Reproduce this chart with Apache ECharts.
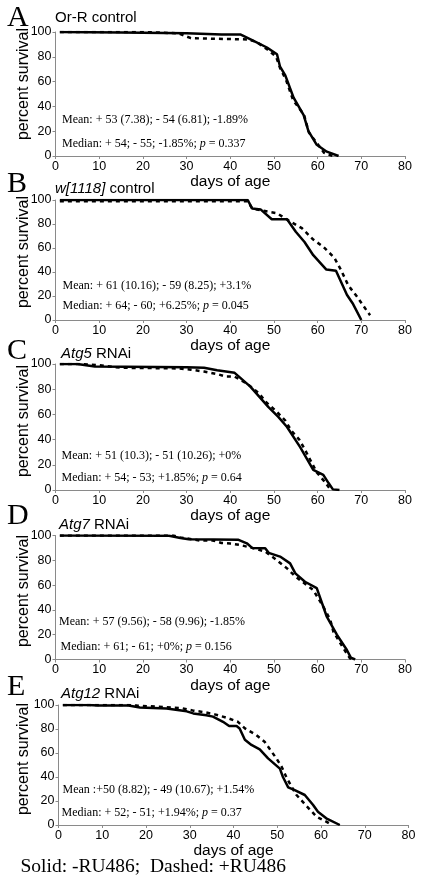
<!DOCTYPE html>
<html><head><meta charset="utf-8">
<script src="https://cdn.jsdelivr.net/npm/echarts@6/dist/echarts.min.js"></script>
<style>html,body{margin:0;padding:0;background:#fff}#c{width:426px;height:880px}</style>
</head><body><div id="c"></div>
<script>
// ---- data: [day, percent survival] ----
// Solid = -RU486, Dashed = +RU486
const A_solid = [[1,100],[15,99.5],[30,99],[38,98],[42.3,98],[45,93.5],[48.4,87.5],[50.7,82],[51.4,72],[52.6,65],[54.5,47],[56.8,33],[57.9,20],[59.8,9],[62.1,3.5],[64.8,0]];
const A_dashed = [[1,100],[20,100],[28,99],[31,95],[44,94],[46,92],[48.5,86],[50.5,80],[51.4,71],[52.8,61],[54.4,45],[56.9,33],[58,19],[61.5,2.5],[63.5,0]];
const B_solid = [[1,100],[44,100],[45,93],[47,92],[49.5,84],[53,84],[55,73.5],[57,65],[59,54],[62,42],[64.2,41],[66.7,21],[68,14],[70,0]];
const B_dashed = [[1,99],[44,99],[45,93],[47.6,91],[50.7,89],[53.3,83],[56.4,76.5],[59,67],[61.3,61],[63.8,52],[65.3,42],[67,29],[69,19.5],[71.2,8],[72,4]];
const C_solid = [[1,100],[5,100],[9,98],[30,97.5],[34,97],[37,95],[41,93],[44.6,82],[48.7,66],[51,58],[53,50],[56,34],[59,16],[61.3,12],[62.5,5.5],[63.5,0.5],[65,0]];
const C_dashed = [[1,100],[6,100],[10,99],[15,97],[28,96.5],[31,95.5],[34,94],[37,92],[39,90],[41,90],[44,84],[46.5,77],[48.4,69],[50.7,62],[52.6,55],[54,47],[55.8,40],[57.1,32],[59.8,14],[61.5,7],[63,0]];
const D_solid = [[1,100],[26,99.8],[28.6,98],[30.5,97],[41.9,96.5],[43.8,93.7],[45,90],[48,89.7],[48.8,86],[51.4,83],[53.7,77.5],[54.9,69.5],[57.1,62.7],[59.8,57.5],[62.1,34.5],[64.4,20],[66.7,7.7],[67.6,1.5],[68.6,0]];
const D_dashed = [[1,100],[27,100],[28.5,98.5],[33,96],[36,96],[38,94],[40,93.5],[42.3,92.3],[45,90],[48,87],[50.7,80],[53,73.5],[54.9,67],[59,56],[61.3,42.6],[62.9,32],[63.6,22.5],[65.9,9],[67.4,1],[68,0]];
const E_solid = [[1,100],[7,100],[9,99.5],[16,99.5],[18.6,98],[24.7,97],[29.3,94.7],[30.8,93],[33.8,91.4],[35.3,90.3],[37.6,86],[39,82.5],[40.7,82.5],[41.4,80.5],[42.6,71],[44.1,66.7],[46,63],[47.9,55.5],[50.6,47],[51.3,40],[52.5,31.4],[54,29],[56.3,25],[58.2,16.7],[59.3,11],[61.2,5.6],[64.3,0]];
const E_dashed = [[1,100],[16,100],[18,99.5],[23,98.5],[28,97.5],[30.8,95.3],[33.4,94],[35.7,92.2],[38.4,89.4],[41,86],[42.6,80.5],[45.2,75],[47.1,69.4],[49.8,55.5],[51,48.6],[52.1,39.7],[53.2,32.5],[54.4,25],[56.7,15.8],[59,6.9],[61.2,2.8],[62.5,0]];

// ---- text ----
const letters = ['A','B','C','D','E'];
const titleItalic = ['', 'w[1118]', 'Atg5', 'Atg7', 'Atg12'];
const titleRest = ['Or-R control', ' control', ' RNAi', ' RNAi', ' RNAi'];
const meanTexts = ['Mean: + 53 (7.38); - 54 (6.81); -1.89%','Mean: + 61 (10.16); - 59 (8.25); +3.1%','Mean: + 51 (10.3); - 51 (10.26); +0%','Mean: + 57 (9.56); - 58 (9.96); -1.85%','Mean :+50 (8.82); - 49 (10.67); +1.54%'];
const medianPrefix = ['Median: + 54; - 55; -1.85%; ','Median: + 64; - 60; +6.25%; ','Median: + 54; - 53; +1.85%; ','Median: + 61; - 61; +0%; ','Median: + 52; - 51; +1.94%; '];
const pValues = ['0.337','0.045','0.64','0.156','0.37'];
const xName = 'days of age';
const yName = 'percent survival';
const footer = 'Solid: -RU486;  Dashed: +RU486';
const xMin = 0, xMax = 80, xStep = 10;
const yMin = 0, yMax = 100, yStep = 20;

const solids = [A_solid, B_solid, C_solid, D_solid, E_solid];
const dasheds = [A_dashed, B_dashed, C_dashed, D_dashed, E_dashed];

// ---- layout (pixels) ----
const layout = [
  {top:32,    h:124, left:55.5, w:349.5, letterY:18,  titleX:55, titleY:18,  meanX:62, meanY:120, medX:62, medY:144, nameGap:14, yNameY:84},
  {top:200,   h:120, left:55.5, w:349.5, letterY:184, titleX:55, titleY:189, meanX:62.5, meanY:286, medX:62.5, medY:306, nameGap:12, yNameY:252},
  {top:364,   h:126, left:55.5, w:349.5, letterY:351, titleX:61, titleY:354, meanX:61.5, meanY:456, medX:61.5, medY:478, nameGap:16, yNameY:421},
  {top:535.5, h:124, left:55.5, w:349.5, letterY:516, titleX:59, titleY:525, meanX:59, meanY:622, medX:60.5, medY:647, nameGap:12, yNameY:591},
  {top:705,   h:120, left:58.5, w:350,   letterY:687, titleX:61, titleY:694, meanX:62.5, meanY:790, medX:61.5, medY:813, nameGap:12, yNameY:759}
];

const sans = 'Liberation Sans, Arial, sans-serif';
const serif = 'Liberation Serif, Times New Roman, serif';
const axisGray = '#8a8a8a';

const grids = [], xAxes = [], yAxes = [], series = [], graphics = [];
layout.forEach((L, i) => {
  grids.push({left: L.left, top: L.top, width: L.w, height: L.h, containLabel: false});
  xAxes.push({
    type: 'value', gridIndex: i, min: xMin, max: xMax, interval: xStep,
    name: xName, nameLocation: 'middle', nameGap: L.nameGap,
    nameTextStyle: {fontFamily: sans, fontSize: 15.5, color: '#000'},
    axisLine: {show: true, lineStyle: {color: axisGray, width: 1}},
    axisTick: {show: true, length: 3, lineStyle: {color: axisGray}},
    axisLabel: {fontFamily: sans, fontSize: 12.5, color: '#000', margin: 4},
    splitLine: {show: false}
  });
  yAxes.push({
    type: 'value', gridIndex: i, min: yMin, max: yMax, interval: yStep,
    axisLine: {show: true, lineStyle: {color: axisGray, width: 1}},
    axisTick: {show: true, length: 3, lineStyle: {color: axisGray}},
    axisLabel: {fontFamily: sans, fontSize: 12.5, color: '#000', margin: 4},
    splitLine: {show: false}
  });
  series.push({
    type: 'line', xAxisIndex: i, yAxisIndex: i, data: dasheds[i], symbol: 'none',
    lineStyle: {color: '#000', width: 2.5, type: [4, 4]}, z: 2, animation: false
  });
  series.push({
    type: 'line', xAxisIndex: i, yAxisIndex: i, data: solids[i], symbol: 'none',
    lineStyle: {color: '#000', width: 2.5, type: 'solid'}, z: 3, animation: false
  });
  graphics.push({type: 'text', x: 24, y: L.yNameY, rotation: Math.PI / 2,
    style: {text: yName, font: '16px ' + sans, fill: '#000', align: 'center', verticalAlign: 'middle'}});
  graphics.push({type: 'text', x: 7, y: L.letterY, style: {text: letters[i], font: '30px ' + serif, fill: '#000', verticalAlign: 'middle'}});
  const ttl = (titleItalic[i] ? '{i|' + titleItalic[i] + '}' : '') + '{n|' + titleRest[i] + '}';
  graphics.push({type: 'text', x: L.titleX, y: L.titleY, style: {text: ttl, verticalAlign: 'middle', fill: '#000',
    rich: {i: {fontFamily: sans, fontSize: 15, fontStyle: 'italic', fill: '#000'}, n: {fontFamily: sans, fontSize: 15, fill: '#000'}}}});
  graphics.push({type: 'text', x: L.meanX, y: L.meanY, style: {text: meanTexts[i], font: '12px ' + serif, fill: '#000', verticalAlign: 'middle'}});
  graphics.push({type: 'text', x: L.medX, y: L.medY, style: {text: '{r|' + medianPrefix[i] + '}{i|p}{r| = ' + pValues[i] + '}', verticalAlign: 'middle', fill: '#000',
    rich: {r: {fontFamily: serif, fontSize: 12, fill: '#000'}, i: {fontFamily: serif, fontSize: 12, fontStyle: 'italic', fill: '#000'}}}});
});
graphics.push({type: 'text', x: 20.5, y: 867, style: {text: footer, font: '19.5px ' + serif, fill: '#000', verticalAlign: 'middle'}});

const chart = echarts.init(document.getElementById('c'), null, {renderer: 'canvas'});
chart.setOption({
  animation: false,
  backgroundColor: '#fff',
  grid: grids, xAxis: xAxes, yAxis: yAxes, series: series, graphic: graphics
});
</script></body></html>
